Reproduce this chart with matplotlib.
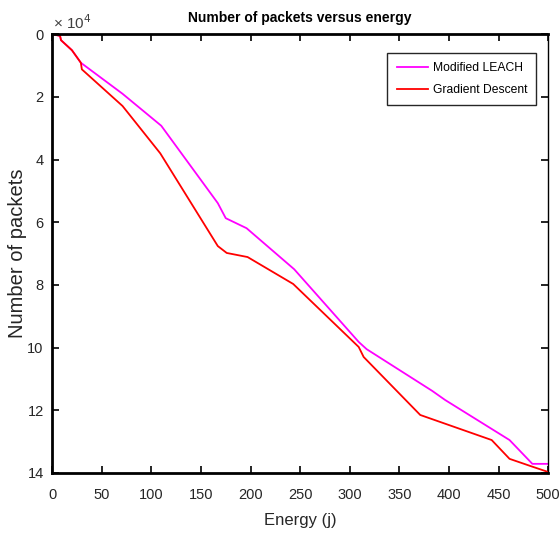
import matplotlib
matplotlib.use('Agg')
import matplotlib.pyplot as plt

# energy (j) and number of packets (x 10^4)
leach_energy = [0, 8, 9, 20, 29, 71, 110, 167, 175, 196, 244, 309, 317, 383, 396, 461, 484, 500]
leach_packets = [0, 0.05, 0.19, 0.51, 0.91, 1.90, 2.92, 5.39, 5.87, 6.19, 7.50, 9.82, 10.05, 11.38, 11.67, 12.95, 13.71, 13.71]

gd_energy = [0, 8, 9, 20, 29, 30, 71, 109, 167, 176, 197, 243, 309, 314, 371, 443, 461, 484, 500]
gd_packets = [0, 0.05, 0.19, 0.51, 0.91, 1.12, 2.29, 3.80, 6.76, 6.98, 7.11, 7.97, 9.98, 10.30, 12.15, 12.95, 13.55, 13.80, 13.97]

x_ticks = [0, 50, 100, 150, 200, 250, 300, 350, 400, 450, 500]
y_ticks = [0, 2, 4, 6, 8, 10, 12, 14]


def main():
    plt.rcParams['font.family'] = ['Liberation Sans', 'DejaVu Sans']

    fig = plt.figure(figsize=(5.6, 5.35), dpi=100)
    ax = fig.add_axes([0.093, 0.116, 0.886, 0.82])

    ax.plot(leach_energy, leach_packets, c='#ff00ff', lw=1.3, label='Modified LEACH')
    ax.plot(gd_energy, gd_packets, c='#ff0000', lw=1.3, label='Gradient Descent')

    ax.set_xlim(0, 500)
    ax.set_ylim(14, 0)
    ax.set_xticks(x_ticks)
    ax.set_yticks(y_ticks)
    ax.tick_params(direction='in', top=True, right=True, length=5, width=1.2,
                   labelsize=10.5, labelcolor='#262626')
    ax.tick_params(axis='x', pad=11)
    ax.tick_params(axis='y', pad=6)
    for side in ['left', 'top', 'bottom']:
        ax.spines[side].set_linewidth(2)
    ax.spines['right'].set_linewidth(1)

    ax.set_title('Number of packets versus energy', fontsize=10, fontweight='bold', pad=9)
    ax.set_xlabel('Energy (j)', fontsize=12, color='#262626')
    ax.xaxis.set_label_coords(0.5, -0.091)
    ax.set_ylabel('Number of packets', fontsize=14.5, color='#262626')
    ax.yaxis.set_label_coords(-0.050, 0.5)
    ax.text(0.002, 1.006, '\u00d7 10$^4$', transform=ax.transAxes, fontsize=11,
            color='#404040', ha='left', va='bottom')

    leg = ax.legend(loc='upper right', bbox_to_anchor=(0.976, 0.957), borderaxespad=0,
                    fontsize=8.7, fancybox=False, framealpha=1, edgecolor='#262626',
                    handlelength=2.6, handletextpad=0.4, borderpad=0.75, labelspacing=0.85)
    leg.get_frame().set_linewidth(1)

    plt.savefig('out.png', dpi=100)


if __name__ == "__main__":
    main()
